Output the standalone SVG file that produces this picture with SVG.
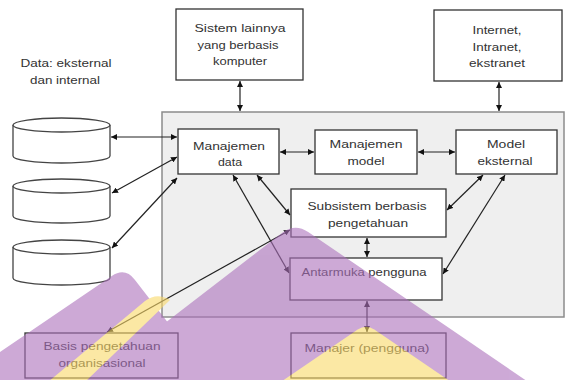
<svg xmlns="http://www.w3.org/2000/svg" width="567" height="380" viewBox="0 0 567 380">
<defs>
<marker id="ah" viewBox="0 0 10 10" refX="10" refY="5" markerWidth="6" markerHeight="6" markerUnits="userSpaceOnUse" orient="auto-start-reverse">
<path d="M0,0 L10,5 L0,10 Z" fill="#111"/>
</marker>
</defs>
<style>
.box{fill:#fff;stroke:#333;stroke-width:1.3}
.cyl{fill:#fff;stroke:#444;stroke-width:1.3}
.t{font-family:"Liberation Sans",Arial,sans-serif;font-size:11px;fill:#333;text-anchor:middle}
.c{stroke:#222;stroke-width:1.2;fill:none;marker-start:url(#ah);marker-end:url(#ah)}
</style>
<rect width="567" height="380" fill="#fff"/>

<g id="panel">
<rect x="162" y="112" width="402" height="205" fill="#efefef" stroke="#8c8c8c" stroke-width="1.5"/>
</g>

<g id="sistem">
<rect class="box" x="176" y="9" width="127" height="71"/>
<text class="t" x="240" y="32" textLength="91" lengthAdjust="spacingAndGlyphs">Sistem lainnya</text>
<text class="t" x="238" y="48.5" textLength="81" lengthAdjust="spacingAndGlyphs">yang berbasis</text>
<text class="t" x="240" y="65" textLength="54" lengthAdjust="spacingAndGlyphs">komputer</text>
</g>

<g id="internet">
<rect class="box" x="434" y="10" width="128" height="71"/>
<text class="t" x="497" y="34" textLength="49" lengthAdjust="spacingAndGlyphs">Internet,</text>
<text class="t" x="497" y="51" textLength="49" lengthAdjust="spacingAndGlyphs">Intranet,</text>
<text class="t" x="497" y="67" textLength="56" lengthAdjust="spacingAndGlyphs">ekstranet</text>
</g>

<g id="data-label">
<text class="t" x="66" y="67" textLength="91" lengthAdjust="spacingAndGlyphs">Data: eksternal</text>
<text class="t" x="65" y="84" textLength="70" lengthAdjust="spacingAndGlyphs">dan internal</text>
</g>

<g id="db1">
<path class="cyl" d="M13,125 V156 A48.5,7 0 0 0 110,156 V125"/>
<ellipse class="cyl" cx="61.5" cy="125" rx="48.5" ry="7"/>
</g>
<g id="db2">
<path class="cyl" d="M13,186 V216 A48.5,7 0 0 0 110,216 V186"/>
<ellipse class="cyl" cx="61.5" cy="186" rx="48.5" ry="7"/>
</g>
<g id="db3">
<path class="cyl" d="M13,247 V278 A48.5,7 0 0 0 110,278 V247"/>
<ellipse class="cyl" cx="61.5" cy="247" rx="48.5" ry="7"/>
</g>

<g id="manajemen-data">
<rect class="box" x="178" y="129" width="101" height="45"/>
<text class="t" x="229" y="150" textLength="72" lengthAdjust="spacingAndGlyphs">Manajemen</text>
<text class="t" x="230" y="166" textLength="24" lengthAdjust="spacingAndGlyphs">data</text>
</g>

<g id="manajemen-model">
<rect class="box" x="315" y="130" width="102" height="44"/>
<text class="t" x="366" y="148" textLength="73" lengthAdjust="spacingAndGlyphs">Manajemen</text>
<text class="t" x="366" y="165" textLength="37" lengthAdjust="spacingAndGlyphs">model</text>
</g>

<g id="model-eksternal">
<rect class="box" x="456" y="130" width="101" height="44"/>
<text class="t" x="506" y="148" textLength="38" lengthAdjust="spacingAndGlyphs">Model</text>
<text class="t" x="505" y="165" textLength="55" lengthAdjust="spacingAndGlyphs">eksternal</text>
</g>

<g id="subsistem">
<rect class="box" x="291" y="189" width="155" height="48"/>
<text class="t" x="367" y="210" textLength="119" lengthAdjust="spacingAndGlyphs">Subsistem berbasis</text>
<text class="t" x="368" y="227" textLength="80" lengthAdjust="spacingAndGlyphs">pengetahuan</text>
</g>

<g id="antarmuka">
<rect class="box" x="290" y="258" width="152" height="42"/>
<text class="t" x="364" y="276" textLength="125" lengthAdjust="spacingAndGlyphs">Antarmuka pengguna</text>
</g>

<g id="manajer">
<rect class="box" x="291" y="333" width="155" height="45"/>
<text class="t" x="367" y="352" textLength="125" lengthAdjust="spacingAndGlyphs">Manajer (pengguna)</text>
</g>

<g id="basis">
<rect class="box" x="25" y="333" width="153" height="45"/>
<text class="t" x="102" y="350" textLength="117" lengthAdjust="spacingAndGlyphs">Basis pengetahuan</text>
<text class="t" x="102" y="367" textLength="87" lengthAdjust="spacingAndGlyphs">organisasional</text>
</g>

<g id="connectors">
<line class="c" x1="240" y1="81" x2="240" y2="111"/>
<line class="c" x1="499" y1="82" x2="499" y2="111"/>
<line class="c" x1="111" y1="137" x2="177" y2="137"/>
<line class="c" x1="112" y1="193" x2="177" y2="157"/>
<line class="c" x1="112" y1="248" x2="177" y2="178"/>
<line class="c" x1="280" y1="152" x2="314" y2="152"/>
<line class="c" x1="418" y1="152" x2="455" y2="152"/>
<line class="c" x1="233" y1="175" x2="289" y2="273"/>
<line class="c" x1="257" y1="175" x2="290" y2="215"/>
<line class="c" x1="107" y1="332" x2="290" y2="230"/>
<line class="c" x1="483" y1="175" x2="447" y2="210"/>
<line class="c" x1="505" y1="175" x2="443" y2="274"/>
<line class="c" x1="367" y1="238" x2="367" y2="257"/>
<line class="c" x1="367" y1="301" x2="367" y2="332"/>
</g>

<g id="overlay" opacity="0.6">
<path d="M-56,390 L111.8,276 Q125,267 134.8,279.7 L220,390 Z" fill="#ac71bc"/>
<path d="M78,390 L282.3,232.7 Q295,223 308.2,232 L540,390 Z" fill="#ac71bc"/>
<path d="M48,382 L145,301 Q157,292 170,300 L85,382 Z" fill="#fad969"/>
<path d="M269,390 L357.7,329.6 Q366,324 374.3,329.6 L463,390 Z" fill="#fad969"/>
</g>
</svg>
